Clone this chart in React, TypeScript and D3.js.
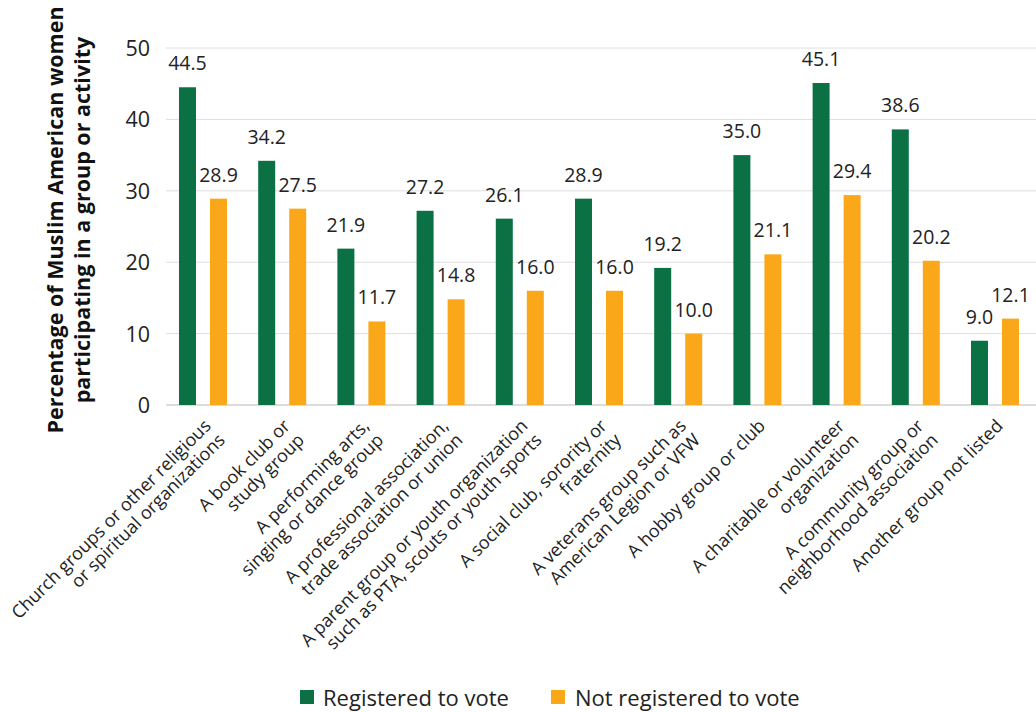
import React from "react";
import * as d3 from "d3";

const categories: string[][] = [
  ["Church groups or other religious", "or spiritual organizations"],
  ["A book club or", "study group"],
  ["A performing arts,", "singing or dance group"],
  ["A professional association,", "trade association or union"],
  ["A parent group or youth organization", "such as PTA, scouts or youth sports"],
  ["A social club, sorority or", "fraternity"],
  ["A veterans group such as", "American Legion or VFW"],
  ["A hobby group or club"],
  ["A charitable or volunteer", "organization"],
  ["A community group or", "neighborhood association"],
  ["Another group not listed"],
];
const registered = [44.5, 34.2, 21.9, 27.2, 26.1, 28.9, 19.2, 35.0, 45.1, 38.6, 9.0];
const notRegistered = [28.9, 27.5, 11.7, 14.8, 16.0, 16.0, 10.0, 21.1, 29.4, 20.2, 12.1];
const seriesNames = ["Registered to vote", "Not registered to vote"];
const yTicks = [0, 10, 20, 30, 40, 50];

const COLORS = ["#0b7043", "#faa819"];
const FONT = "'Open Sans', sans-serif";
const W = 1036;
const H = 712;

export default function App() {
  const keys = categories.map((_, i) => String(i));
  const x0 = d3.scaleBand<string>().domain(keys).range([163.4, 1034.6]).paddingInner(0).paddingOuter(0);
  const x1 = d3
    .scaleBand<string>()
    .domain(seriesNames)
    .range([0, x0.bandwidth()])
    .paddingInner(0.452)
    .paddingOuter(0.503);
  const y = d3.scaleLinear().domain([0, 50]).range([405, 48]);
  const values = [registered, notRegistered];

  return (
    <svg
      width={W}
      height={H}
      style={{ position: "absolute", left: 0, top: 0, background: "#fff" }}
      fontFamily={FONT}
    >
      {yTicks.map((t) => (
        <line
          key={t}
          x1={166}
          x2={1036}
          y1={y(t)}
          y2={y(t)}
          stroke={t === 0 ? "#d0d0d0" : "#dedede"}
          strokeWidth={t === 0 ? 1.5 : 1}
        />
      ))}
      {yTicks.map((t) => (
        <text key={"t" + t} x={150} y={y(t) + 8} textAnchor="end" fontSize={21.5} fill="#222">
          {t}
        </text>
      ))}
      {keys.map((k, i) => (
        <g key={k} transform={`translate(${x0(k)},0)`}>
          {seriesNames.map((s, j) => {
            const v = values[j][i];
            const bx = x1(s)!;
            return (
              <g key={s}>
                <rect x={bx} y={y(v)} width={x1.bandwidth()} height={y(0) - y(v)} fill={COLORS[j]} />
                <text
                  x={bx + x1.bandwidth() / 2}
                  y={y(v) - 17}
                  textAnchor="middle"
                  fontSize={19.5}
                  fill="#222"
                >
                  {v.toFixed(1)}
                </text>
              </g>
            );
          })}
        </g>
      ))}
      {keys.map((k, i) => {
        const cx = x0(k)! + x0.bandwidth() / 2;
        return (
          <text
            key={"c" + k}
            transform={`translate(${cx + 9},${427}) rotate(-45)`}
            textAnchor="end"
            fontSize={18}
            fill="#222"
          >
            {categories[i].map((line, li) => (
              <tspan key={li} x={0} dy={li === 0 ? 0 : 20}>
                {line}
              </tspan>
            ))}
          </text>
        );
      })}
      <text
        transform={`translate(63,220) rotate(-90)`}
        textAnchor="middle"
        fontSize={21.5}
        fontWeight="bold"
        fill="#111"
      >
        <tspan x={0} dy={0}>Percentage of Muslim American women</tspan>
        <tspan x={0} dy={27}>participating in a group or activity</tspan>
      </text>
      <g>
        <rect x={300} y={690} width={14} height={14} fill={COLORS[0]} />
        <text x={323} y={706} fontSize={22} fill="#222">{seriesNames[0]}</text>
        <rect x={551} y={690} width={14} height={14} fill={COLORS[1]} />
        <text x={575} y={706} fontSize={22} fill="#222">{seriesNames[1]}</text>
      </g>
    </svg>
  );
}
